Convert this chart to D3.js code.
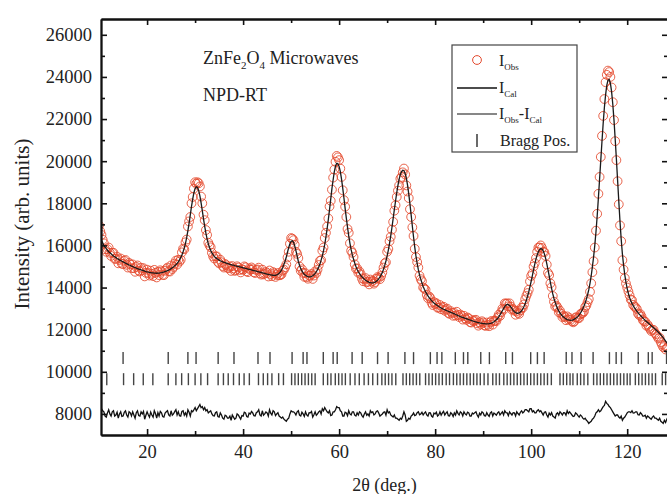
<!DOCTYPE html>
<html><head><meta charset="utf-8">
<script src="https://cdn.jsdelivr.net/npm/d3@7"></script>
<style>
html,body{margin:0;padding:0;background:#fff;}
svg{display:block;font-family:"Liberation Serif","Times New Roman",serif;}
</style></head>
<body><svg id="chart" width="667" height="494"></svg>
<script>
// 2θ grid of the scan (instrument step)
const twoThetaStart = 10;
const twoThetaStep = 0.25;

// Calculated intensity (I_Cal), one row per degree (10 … 128)
const calc = [
16500,16370,16250,16120, 16000,15920,15850,15770, 15700,15650,15600,15550, 15500,15460,15420,15380,
15350,15310,15280,15250, 15220,15190,15160,15130, 15100,15070,15050,15020, 15000,14970,14950,14920,
14900,14880,14860,14840, 14820,14800,14780,14760, 14750,14730,14720,14710, 14700,14695,14690,14685,
14680,14685,14690,14700, 14710,14725,14740,14760, 14780,14800,14830,14860, 14900,14940,14980,15030,
15080,15140,15220,15310, 15420,15550,15700,15880, 16100,16380,16700,17060, 17450,17850,18200,18500,
18700,18780,18750,18600, 18350,18020,17650,17260, 16900,16580,16300,16080, 15900,15760,15650,15560,
15480,15420,15380,15340, 15300,15270,15250,15220, 15200,15180,15160,15140, 15120,15100,15090,15070,
15060,15040,15030,15010, 15000,14985,14970,14955, 14940,14925,14910,14895, 14880,14865,14850,14835,
14820,14805,14790,14775, 14760,14745,14730,14715, 14700,14685,14670,14655, 14640,14625,14610,14600,
14590,14585,14580,14585, 14600,14630,14680,14740, 14830,14950,15100,15260, 15450,15680,15900,16080,
16200,16220,16150,15980, 15750,15500,15250,15060, 14900,14790,14700,14630, 14580,14545,14520,14510,
14510,14525,14560,14610, 14670,14750,14850,14970, 15120,15300,15500,15750, 16050,16400,16800,17230,
17700,18200,18700,19120, 19500,19770,19900,19880, 19750,19500,19150,18720, 18250,17760,17300,16860,
16450,16100,15800,15550, 15350,15160,15000,14860, 14750,14660,14580,14510, 14450,14400,14350,14310,
14280,14250,14230,14220, 14220,14235,14260,14300, 14350,14420,14500,14600, 14720,14870,15050,15260,
15500,15780,16100,16460, 16850,17270,17700,18110, 18500,18850,19150,19370, 19500,19570,19550,19420,
19200,18860,18450,17970, 17450,16910,16400,15920, 15500,15150,14850,14600, 14400,14220,14050,13920,
13800,13700,13600,13520, 13450,13380,13320,13270, 13220,13180,13140,13100, 13070,13030,13000,12970,
12950,12920,12900,12870, 12850,12820,12800,12780, 12750,12720,12700,12670, 12650,12620,12600,12580,
12560,12540,12520,12500, 12480,12460,12440,12420, 12400,12380,12370,12350, 12340,12320,12310,12300,
12290,12285,12280,12280, 12280,12285,12300,12315, 12340,12375,12420,12470, 12530,12610,12700,12800,
12900,13000,13100,13170, 13200,13190,13150,13080, 13000,12920,12850,12810, 12780,12780,12800,12840,
12900,12990,13100,13240, 13400,13590,13800,14040, 14300,14570,14850,15110, 15350,15550,15700,15800,
15850,15830,15750,15600, 15400,15140,14850,14550, 14250,13960,13700,13480, 13300,13140,13000,12890,
12800,12720,12650,12600, 12550,12510,12480,12460, 12450,12445,12450,12470, 12500,12535,12580,12630,
12700,12780,12880,12990, 13120,13270,13450,13660, 13900,14200,14550,14980, 15450,16000,16650,17400,
18250,19150,20050,20950, 21800,22550,23150,23600, 23850,23880,23700,23300, 22700,21950,21050,20100,
19100,18100,17150,16300, 15600,15050,14600,14240, 13950,13720,13530,13370, 13250,13140,13050,12960,
12880,12810,12740,12680, 12620,12560,12500,12440, 12390,12340,12290,12240, 12190,12140,12090,12040,
11990,11940,11880,11820, 11760,11690,11620,11540, 11460,11380,11300
];

// Observed intensity (I_Obs), same grid
const obs = [
16950,16670,16500,16270, 16100,15820,15700,15820, 15900,15650,15500,15650, 15650,15360,15370,15460,
15150,15310,15380,15130, 15120,15270,15310,15080, 14950,15170,15100,14920, 15100,14920,14750,14980,
15050,14800,14760,14940, 14820,14920,14530,14700, 14850,14690,14570,14800, 14650,14545,14840,14705,
14480,14745,14590,14820, 14760,14605,14590,14800, 14880,14950,14780,14760, 15050,14880,14980,15140,
15280,15090,15320,15230, 15320,15670,15850,15820, 16150,16280,16900,17140, 17350,18000,18300,18700,
19000,18930,19000,18950, 18800,18320,18000,17460, 17200,16730,16500,16130, 16000,15910,15650,15480,
15380,15480,15480,15220, 15150,15320,15200,15020, 14950,15120,15060,14940, 14920,15000,14790,15020,
14910,14790,14830,15010, 14950,14835,14720,14875, 14840,15005,14960,14775, 14730,14905,14850,14955,
14870,14725,14690,14835, 14860,14945,14680,14615, 14850,14625,14670,14745, 14690,14525,14810,14640,
14540,14735,14680,14505, 14600,14690,14580,14590, 14630,14800,14850,14960, 15100,15430,15700,16080,
16350,16320,16250,16030, 15700,15600,15400,15000, 14800,14870,14700,14510, 14680,14495,14420,14570,
14560,14645,14410,14570, 14770,14690,14850,15070, 15270,15300,15750,15900, 16350,16600,16900,17280,
17850,18120,18650,19220, 19600,19970,20250,20180, 20050,19650,19250,18620, 18150,17840,17350,16780,
16600,16100,15750,15650, 15450,15100,14900,14910, 14700,14760,14630,14430, 14300,14400,14450,14250,
14280,14150,14380,14280, 14320,14185,14260,14420, 14500,14460,14400,14550, 14720,14950,15150,15200,
15700,15830,16200,16410, 16750,17120,17650,17910, 18300,18600,18850,19170, 19250,19470,19650,19370,
18850,18560,18250,17720, 17350,16860,16450,15840, 15450,15210,14950,14560, 14400,14300,14000,13960,
13900,13650,13500,13580, 13500,13280,13170,13310, 13220,13260,13040,13050, 13170,12970,13050,13090,
12900,12960,13000,12790, 12750,12880,12800,12660, 12800,12670,12850,12700, 12600,12720,12650,12480,
12660,12540,12470,12580, 12530,12360,12340,12460, 12400,12440,12470,12300, 12190,12350,12260,12400,
12340,12205,12180,12340, 12230,12165,12350,12415, 12240,12415,12420,12410, 12580,12710,12650,12830,
13000,12950,13250,13230, 13250,13110,13250,13100, 12950,12980,12900,12710, 12880,12800,12750,12920,
13050,13040,13200,13440, 13600,13740,13900,14290, 14550,14670,15000,15160, 15400,15700,15900,15900,
16000,15880,15700,15680, 15500,15090,14700,14590, 14200,14020,13600,13330, 13100,13140,13050,12830,
12900,12760,12600,12660, 12600,12450,12630,12480, 12550,12475,12400,12350, 12400,12585,12580,12550,
12550,12730,12780,12790, 12870,13070,13150,13310, 13450,13800,14200,14730, 15250,15900,16700,17500,
18450,19250,20200,21200, 22150,22950,23750,24100, 24300,24230,24000,23500, 22800,21950,20950,20050,
19050,17950,16950,16200, 15300,14850,14450,14190, 14000,13820,13630,13430, 13400,13180,13100,13060,
12980,12770,12690,12740, 12620,12460,12400,12380, 12190,12240,12140,12040, 11940,11990,11990,11840,
11790,11690,11580,11620, 11410,11290,11170,11240, 11060,11130,11150
];

// Offset at which I_Obs - I_Cal is drawn
const diffOffset = 8000;

// Bragg reflection positions (2θ), two phases
const braggUpper = [15.0,24.4,28.5,30.2,34.8,38.1,43.1,45.6,50.2,52.5,53.3,56.7,58.75,59.6,62.7,64.8,68.0,70.2,73.7,75.5,
79.0,80.4,81.4,84.2,85.9,86.8,89.5,91.3,94.7,96.1,99.9,101.3,102.7,107.3,108.5,110.4,112.9,116.3,117.7,118.8,122.3,124.4,125.2,128.2];
const braggLower = [11.6,15.1,17.2,19.2,21.2,24.4,26.0,27.2,28.6,30.0,31.2,32.6,34.8,35.9,36.9,38.0,39.2,40.2,41.3,43.2,44.2,45.1,46.0,
47.4,48.4,50.1,50.8,51.5,52.2,52.9,53.6,54.3,55.0,56.7,57.6,58.3,59.2,59.9,60.6,61.3,62.3,63.3,64.2,65.2,66.1,67.0,68.0,68.9,69.6,
70.3,71.0,71.8,73.3,74.0,74.7,75.4,76.1,76.8,78.0,78.7,79.4,80.1,80.8,81.5,82.3,83.0,83.8,84.5,85.2,85.9,86.6,87.3,88.0,88.7,
89.4,90.2,91.0,92.0,92.7,93.4,94.3,95.0,95.7,96.4,97.1,97.8,98.5,99.2,99.9,100.6,101.3,102.0,102.7,103.4,104.2,106.0,106.7,
107.4,108.1,108.7,109.6,110.3,111.0,111.8,113.0,113.7,114.4,115.1,115.8,116.5,117.2,117.9,118.6,119.3,120.0,120.6,121.7,122.4,
123.1,123.8,124.5,125.2,125.9,127.3,128.0];
const braggUpperLevel = 10650;
const braggLowerLevel = 9650;

// Axis ticks
const xMajorTicks = [20,40,60,80,100,120];
const xMinorTicks = [30,50,70,90,110];
const yMajorTicks = [8000,10000,12000,14000,16000,18000,20000,22000,24000,26000];
const yMinorTicks = [9000,11000,13000,15000,17000,19000,21000,23000,25000];

const xLabel = "2θ (deg.)";
const yLabel = "Intensity (arb. units)";

// ---------- drawing ----------
const svg = d3.select("#chart");
const L = 101, R = 668, T = 19, B = 435;
const x = d3.scaleLinear().domain([10.4, 128.5]).range([L, R]);
const y = d3.scaleLinear().domain([7000, 26750]).range([B, T]);

const rows = calc.map((c, i) => ({
  t: twoThetaStart + i * twoThetaStep,
  calc: c,
  obs: obs[i],
  diff: obs[i] - c + diffOffset
}));

svg.append("defs").append("clipPath").attr("id", "clip")
  .append("rect").attr("x", L).attr("y", T).attr("width", R - L).attr("height", B - T);

const plot = svg.append("g").attr("clip-path", "url(#clip)");

// observed circles
plot.append("g").selectAll("circle").data(rows).join("circle")
  .attr("cx", d => x(d.t)).attr("cy", d => y(d.obs)).attr("r", 4.4)
  .attr("fill", "none").attr("stroke", "#e4492d").attr("stroke-width", 1).attr("stroke-opacity", 0.85);

// calculated line
plot.append("path").datum(rows)
  .attr("fill", "none").attr("stroke", "#1a1a1a").attr("stroke-width", 1.3)
  .attr("d", d3.line().x(d => x(d.t)).y(d => y(d.calc)));

// difference line
plot.append("path").datum(rows)
  .attr("fill", "none").attr("stroke", "#111").attr("stroke-width", 1.3)
  .attr("d", d3.line().x(d => x(d.t)).y(d => y(d.diff)));

// Bragg ticks
const bh = 6;
plot.append("g").selectAll("line").data(braggUpper).join("line")
  .attr("x1", d => x(d)).attr("x2", d => x(d))
  .attr("y1", y(braggUpperLevel) - bh).attr("y2", y(braggUpperLevel) + bh)
  .attr("stroke", "#444").attr("stroke-width", 1.4);
plot.append("g").selectAll("line").data(braggLower).join("line")
  .attr("x1", d => x(d)).attr("x2", d => x(d))
  .attr("y1", y(braggLowerLevel) - bh).attr("y2", y(braggLowerLevel) + bh)
  .attr("stroke", "#444").attr("stroke-width", 1.4);

// axes
function styleAxis(g) {
  g.selectAll("path").attr("stroke", "#111").attr("stroke-width", 1.8);
  g.selectAll("line").attr("stroke", "#111").attr("stroke-width", 1.6);
  g.selectAll("text").attr("fill", "#222").attr("font-size", 18.5)
    .attr("font-family", "'Liberation Serif','Times New Roman',serif");
}
const fmt = d3.format("d");
svg.append("g").attr("transform", `translate(0,${B})`)
  .call(d3.axisBottom(x).tickValues(xMajorTicks).tickSize(-6).tickSizeOuter(0).tickPadding(10).tickFormat(fmt)).call(styleAxis);
svg.append("g").attr("transform", `translate(0,${B})`)
  .call(d3.axisBottom(x).tickValues(xMinorTicks).tickSize(-4).tickSizeOuter(0).tickFormat("")).call(styleAxis);
svg.append("g").attr("transform", `translate(0,${T})`)
  .call(d3.axisTop(x).tickValues(xMajorTicks).tickSize(-6).tickSizeOuter(0).tickFormat("")).call(styleAxis);
svg.append("g").attr("transform", `translate(0,${T})`)
  .call(d3.axisTop(x).tickValues(xMinorTicks).tickSize(-4).tickSizeOuter(0).tickFormat("")).call(styleAxis);
svg.append("g").attr("transform", `translate(${L},0)`)
  .call(d3.axisLeft(y).tickValues(yMajorTicks).tickSize(-6).tickSizeOuter(0).tickPadding(9).tickFormat(fmt)).call(styleAxis);
svg.append("g").attr("transform", `translate(${L},0)`)
  .call(d3.axisLeft(y).tickValues(yMinorTicks).tickSize(-4).tickSizeOuter(0).tickFormat("")).call(styleAxis);
svg.append("g").attr("transform", `translate(${R},0)`)
  .call(d3.axisRight(y).tickValues(yMajorTicks).tickSize(-6).tickSizeOuter(0).tickFormat("")).call(styleAxis);
svg.append("g").attr("transform", `translate(${R},0)`)
  .call(d3.axisRight(y).tickValues(yMinorTicks).tickSize(-4).tickSizeOuter(0).tickFormat("")).call(styleAxis);

// axis titles
svg.append("text").attr("x", (L + R) / 2).attr("y", 491).attr("text-anchor", "middle")
  .attr("font-size", 18).attr("fill", "#222").text(xLabel);
svg.append("text").attr("transform", `translate(29,${(T + B) / 2 - 3}) rotate(-90)`).attr("text-anchor", "middle")
  .attr("font-size", 21).attr("fill", "#222").text(yLabel);

// annotation
const ann = svg.append("text").attr("x", 203).attr("y", 64).attr("font-size", 18).attr("fill", "#222");
ann.append("tspan").text("ZnFe");
ann.append("tspan").attr("font-size", 11).attr("dy", 5).text("2");
ann.append("tspan").attr("dy", -5).text("O");
ann.append("tspan").attr("font-size", 11).attr("dy", 5).text("4");
ann.append("tspan").attr("dy", -5).text(" Microwaves");
svg.append("text").attr("x", 203).attr("y", 101).attr("font-size", 18).attr("fill", "#222").text("NPD-RT");

// legend
const lg = svg.append("g");
lg.append("rect").attr("x", 452).attr("y", 45).attr("width", 125).attr("height", 107)
  .attr("fill", "#fff").attr("stroke", "#444").attr("stroke-width", 1.2);
lg.append("circle").attr("cx", 477).attr("cy", 60).attr("r", 4.4).attr("fill", "none").attr("stroke", "#e4492d").attr("stroke-width", 1);
function subLabel(yb, parts) {
  const t = lg.append("text").attr("x", 499).attr("y", yb).attr("font-size", 16).attr("fill", "#222");
  parts.forEach(p => {
    if (p[1]) t.append("tspan").attr("font-size", 9).attr("dy", 4).text(p[0]);
    else t.append("tspan").attr("font-size", 16).attr("dy", p[2] || 0).text(p[0]);
  });
}
subLabel(66, [["I"], ["Obs", true]]);
lg.append("line").attr("x1", 457).attr("x2", 497).attr("y1", 88).attr("y2", 88).attr("stroke", "#111").attr("stroke-width", 1.5);
subLabel(93, [["I"], ["Cal", true]]);
lg.append("line").attr("x1", 457).attr("x2", 497).attr("y1", 114).attr("y2", 114).attr("stroke", "#111").attr("stroke-width", 1.2);
subLabel(119, [["I"], ["Obs", true], ["-I", false, -4], ["Cal", true]]);
lg.append("line").attr("x1", 477).attr("x2", 477).attr("y1", 134).attr("y2", 147).attr("stroke", "#444").attr("stroke-width", 1.6);
lg.append("text").attr("x", 500).attr("y", 146).attr("font-size", 16).attr("fill", "#222").text("Bragg Pos.");
</script>
</body></html>
